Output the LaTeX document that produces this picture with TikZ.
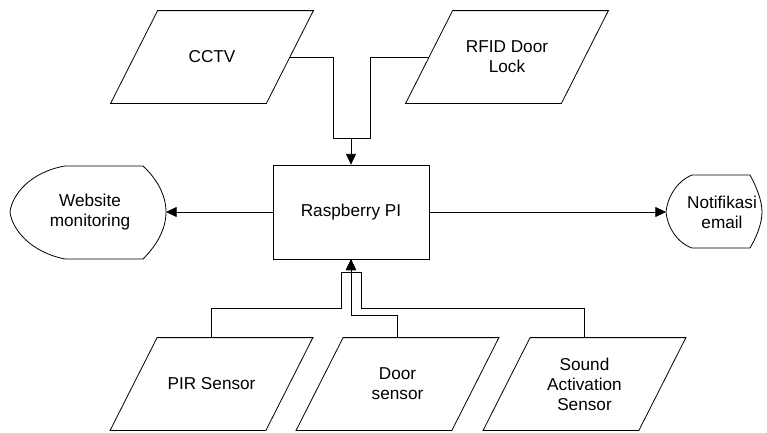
\documentclass[tikz,border=0pt]{standalone}
\usepackage{fontspec}
\setmainfont{Liberation Sans}
\usetikzlibrary{arrows.meta}
\newdimen\pxu \pxu=0.75pt
\begin{document}
\begin{tikzpicture}[x=\pxu, y=-\pxu, line width=0.6pt,
    every node/.style={align=center, font=\fontsize{12.9}{15}\selectfont},
    io/.style={rectangle, inner sep=0pt,
      minimum width=155\pxu, minimum height=92\pxu,
      append after command={\pgfextra{\draw
        ([xshift=-23.5\pxu]\tikzlastnode.south west) --
        ([xshift=23.5\pxu]\tikzlastnode.north west) --
        ([xshift=23.5\pxu]\tikzlastnode.north east) --
        ([xshift=-23.5\pxu]\tikzlastnode.south east) -- cycle;}}},
    proc/.style={rectangle, draw, minimum width=156\pxu, minimum height=94\pxu},
    flow/.style={-{Triangle[length=8pt,width=7.5pt]}}]
  \useasboundingbox (0,0) rectangle (767,432);
  \node[proc] (rpi) at (351,212) {Raspberry PI};
  \node[io] (cctv) at (212,57) {CCTV};
  \node[io] (rfid) at (507,57) {RFID Door\\Lock};
  \node[io] (pir) at (211.5,384) {PIR Sensor};
  \node[io] (door) at (397.5,384) {Door\\sensor};
  \node[io] (sound) at (584.5,384) {Sound\\Activation\\Sensor};
  % output displays
  \node (web) at (90,212) {Website\\monitoring};
  \draw (65,166) -- (143,166) .. controls (158,180) and (166,196) .. (166,212)
    coordinate (webe) .. controls (166,228) and (158,244) .. (143,259) -- (65,259)
    .. controls (30,252) and (12,229) .. (10,212) .. controls (12,195) and (30,172) .. (65,166);
  \node (mail) at (722,212) {Notifikasi\\email};
  \draw (692,175) -- (750,175) .. controls (756,186) and (762,200) .. (762,212)
    .. controls (762,224) and (756,238) .. (750,248) -- (692,248)
    .. controls (675,242) and (667,224) .. (666,212) coordinate (maile)
    .. controls (667,200) and (675,182) .. (692,175);
  % junctions
  \coordinate (tl) at (333,138);
  \coordinate (tm) at (351,138);
  \coordinate (tr) at (370,138);
  \coordinate (bl) at (341,308);
  \coordinate (br) at (361,308);
  \coordinate (bm) at (351,272);
  \coordinate (bd) at (351,315);
  \draw (cctv.east) -| (tl) -- (tm);
  \draw (rfid.west) -| (tr) -- (tm);
  \draw[flow] (tm) -- (rpi.north);
  \draw[flow] (pir.north) |- (bl) |- (bm) -- (rpi.south);
  \draw[flow] (sound.north) |- (br) |- (bm) -- (rpi.south);
  \draw[flow] (door.north) |- (bd) -- (rpi.south);
  \draw[flow] (rpi.west) -- (webe);
  \draw[flow] (rpi.east) -- (maile);
\end{tikzpicture}
\end{document}
